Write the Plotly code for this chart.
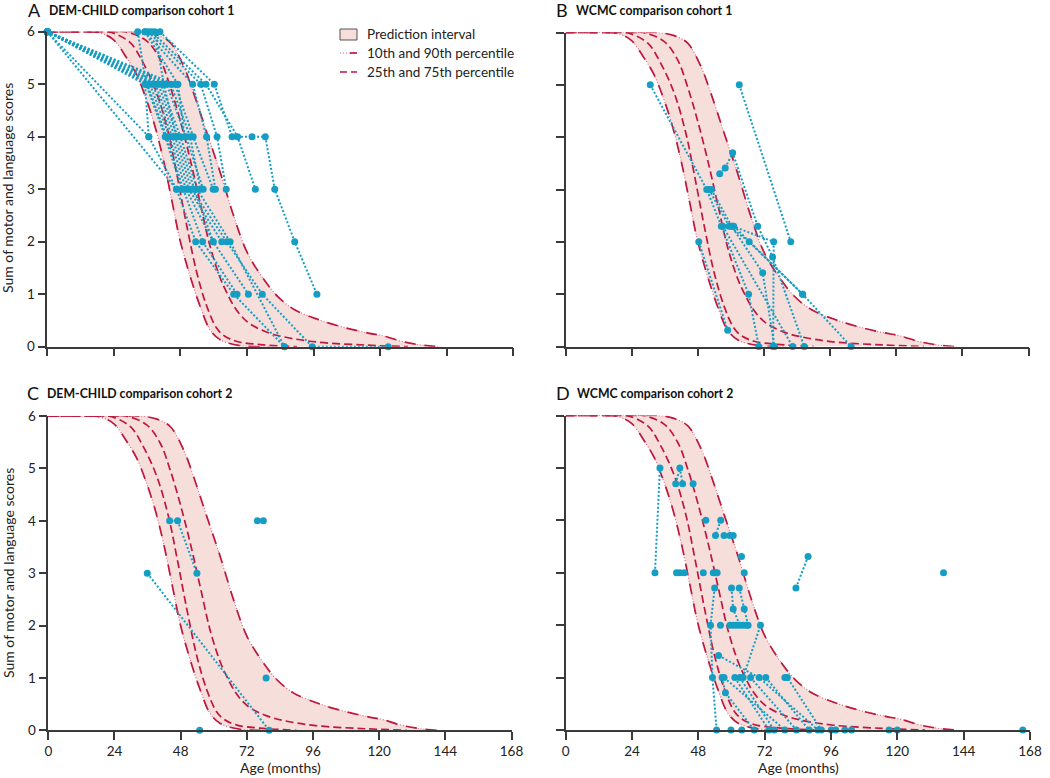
import plotly.graph_objects as go

W, H = 1050, 778

# ---------------- model percentile curves (age in months, score) ----------------
p10_age = [0, 12, 18, 23.6, 28.5, 32.1, 35.7, 38.8, 41.8, 44.8, 47.8, 51.5, 55.1, 58.7, 62.4, 69.6, 80]
p10_val = [6, 6, 5.99, 5.86, 5.51, 5.19, 4.71, 4.20, 3.57, 2.81, 2.04, 1.34, 0.77, 0.32, 0.13, 0.02, 0]
p25_age = [0, 15, 22, 29.7, 34.5, 39.4, 43.6, 46.6, 50.3, 53.9, 57.5, 61.1, 64.0, 68.4, 76.9, 90]
p25_val = [6, 6, 6, 5.80, 5.41, 4.84, 4.08, 3.31, 2.30, 1.41, 0.77, 0.35, 0.20, 0.10, 0.04, 0]
p75_age = [0, 20, 28, 35.7, 40.6, 44.2, 47.8, 51.5, 55.1, 58.7, 62.4, 64.8, 67.2, 70.0, 73.2, 79.0, 85.0, 97.0, 115, 130]
p75_val = [6, 6, 6, 5.83, 5.48, 4.97, 4.33, 3.57, 2.74, 1.91, 1.30, 1.02, 0.78, 0.58, 0.43, 0.28, 0.19, 0.09, 0.03, 0]
p90_age = [0, 25, 33.3, 39.4, 44.2, 49.1, 52.7, 57.5, 62.4, 67.2, 72.1, 78.1, 83.0, 89.0, 97.5, 106, 115.7, 121.6, 127.8, 135, 141]
p90_val = [6, 6, 6, 5.94, 5.80, 5.35, 4.84, 4.08, 3.31, 2.49, 1.79, 1.28, 0.96, 0.71, 0.52, 0.38, 0.26, 0.20, 0.10, 0.03, 0]

# ---------------- patient trajectories ----------------
# Panel A: DEM-CHILD comparison cohort 1
a_ages = [
    [0, 35.2, 36.6, 46.6, 53.5, 67.2, 85.5],
    [0, 36.6],
    [0, 46.6],
    [0, 36.0, 43.0, 49.0, 56.0, 68.4],
    [0, 37.0, 44.0, 50.0, 59.8, 72.5],
    [0, 38.0, 45.0, 51.0, 62.9],
    [0, 39.0, 46.0, 52.0, 64.7, 77.5, 95.5, 122.9],
    [0, 41.0, 48.0, 54.0, 65.9, 85.5],
    [0, 43.0, 50.0, 56.2],
    [0, 44.5, 51.5, 55.2],
    [0, 46.0, 52.6, 59.8],
    [0, 40.0, 47.0, 53.0, 59.8],
    [32.6, 35.6, 42.5, 48.5],
    [35.2, 47.1, 49.5],
    [35.2, 52.4, 57.4, 60.6],
    [36.4, 55.3, 61.2, 64.5],
    [37.6, 57.2, 68.6, 75.0],
    [40.6, 60.2, 66.6, 73.8, 78.6, 82.0, 89.2, 97.2],
    [38.8, 42.0, 46.5],
]
a_scores = [
    [6, 5, 4, 3, 2, 1, 0],
    [6, 4],
    [6, 3],
    [6, 5, 4, 3, 2, 1],
    [6, 5, 4, 3, 2, 1],
    [6, 5, 4, 3, 2],
    [6, 5, 4, 3, 2, 1, 0, 0],
    [6, 5, 4, 3, 2, 0],
    [6, 5, 4, 3],
    [6, 5, 4, 3],
    [6, 5, 4, 3],
    [6, 5, 4, 3, 2],
    [6, 5, 4, 3],
    [6, 5, 4],
    [6, 5, 4, 3],
    [6, 5, 4, 3],
    [6, 5, 4, 3],
    [6, 5, 4, 4, 4, 3, 2, 1],
    [6, 5, 4],
]

# Panel B: WCMC comparison cohort 1
b_ages = [
    [30.7, 51.2, 56.5, 66.4, 70.1],
    [48.3, 58.8],
    [63.0, 81.7],
    [55.9, 57.9, 60.6, 69.7, 75.1, 86.6],
    [52.0, 59.3, 66.6, 86.0],
    [52.9, 60.2, 71.5, 75.8],
    [61.0, 86.0, 103.6],
    [57.0, 82.4],
    [60.5, 75.5, 75.3],
]
b_scores = [
    [5, 3, 2.3, 1.0, 0],
    [2, 0.31],
    [5, 2],
    [3.3, 3.41, 3.7, 2.3, 1.71, 0],
    [3, 2.3, 2.0, 1.0],
    [3, 2.3, 1.41, 0],
    [2.3, 1.0, 0],
    [2.3, 0],
    [2.3, 2.0, 0],
]

# Panel C: DEM-CHILD comparison cohort 2
c_ages = [[35.9, 80.1], [44.0, 46.9, 53.9], [54.9], [75.8, 78.0], [79.0]]
c_scores = [[3, 0], [4, 4, 3], [0], [4, 4], [1]]

# Panel D: WCMC comparison cohort 2
d_ages = [
    [32.3, 34.1], [39.8, 41.3, 42.3], [46.1], [40.1, 41.3, 42.9], [49.8], [50.7],
    [56.1, 54.2], [57.3, 59.4, 60.6], [53.4, 54.2, 54.8], [63.6], [64.6],
    [53.9, 52.4, 53.1, 54.6], [60.0, 60.6, 63.0], [62.8, 64.6, 66.0], [56.0],
    [59.4, 60.6, 61.8, 64.2, 65.4], [64.2, 70.5], [55.3, 70.0, 91.3],
    [56.6, 57.8, 68.2], [57.3, 79.3], [61.2, 73.5], [63.0, 75.4], [66.9, 83.5],
    [72.4, 88.1], [79.3, 80.2, 92.5], [83.3, 87.7], [136.7],
    [59.8], [63.7], [96.1], [97.7], [101.0], [103.4], [117.0], [120.0], [165.4],
]
d_scores = [
    [3, 5], [4.7, 5, 4.7], [4.7], [3, 3, 3], [3], [4],
    [4, 3.71], [3.71, 3.71, 3.71], [3, 3, 3], [3.31], [3],
    [2.71, 2.0, 1.0, 0], [2.71, 2.31, 2.0], [2.71, 2.31, 2.0], [2.0],
    [2, 2, 2, 2, 2], [1, 2], [1.42, 1.0, 0],
    [1, 0.71, 0], [1, 0], [1, 0], [1, 0], [1, 0],
    [1, 0], [1, 1, 0], [2.71, 3.31], [3],
    [0], [0], [0], [0], [0], [0], [0], [0], [0],
]

x_ticks = [0, 24, 48, 72, 96, 120, 144, 168]
y_ticks = [0, 1, 2, 3, 4, 5, 6]

titles = ["DEM-CHILD comparison cohort 1", "WCMC comparison cohort 1",
          "DEM-CHILD comparison cohort 2", "WCMC comparison cohort 2"]
letters = ["A", "B", "C", "D"]

# ---------------- styling ----------------
FONT = "Lato"
RED = "#c0173f"
PINKDOT = "#d9607a"
FILL = "#f6dedb"
TEAL = "#149ec4"
AX = "#3a3a3a"

# pixel boxes: (x_left, x_right, y_top, y_bottom)
boxes = [
    (47.3, 513.3, 31.7, 346.7),
    (565.7, 1028.5, 32.5, 346.5),
    (48.3, 511.5, 416.0, 730.3),
    (565.7, 1030.0, 415.5, 730.0),
]
show_xlab = [False, False, True, True]
show_ylab = [True, False, True, False]
datasets = [(a_ages, a_scores), (b_ages, b_scores), (c_ages, c_scores), (d_ages, d_scores)]

fig = go.Figure()
layout = {}
annotations = []

for i in range(4):
    xl, xr, yt, yb = boxes[i]
    sfx = "" if i == 0 else str(i + 1)
    xa, ya = "x" + sfx, "y" + sfx
    layout["xaxis" + sfx] = dict(
        domain=[xl / W, xr / W], anchor=ya, range=[0, 168], tickvals=x_ticks,
        showticklabels=show_xlab[i], ticks="outside", ticklen=8, tickwidth=1.5,
        tickcolor=AX, showline=True, linecolor=AX, linewidth=1.5, showgrid=False,
        zeroline=False, automargin=False, tickfont=dict(family=FONT, size=13.5, color="#222"),
    )
    layout["yaxis" + sfx] = dict(
        domain=[1 - yb / H, 1 - yt / H], anchor=xa, range=[0, 6], tickvals=y_ticks,
        showticklabels=show_ylab[i], ticks="outside", ticklen=8, tickwidth=1.5,
        tickcolor=AX, showline=True, linecolor=AX, linewidth=1.5, showgrid=False,
        zeroline=False, automargin=False, tickfont=dict(family=FONT, size=13.5, color="#222"),
    )

    # prediction interval fill (10th to 90th)
    fig.add_trace(go.Scatter(x=p10_age, y=p10_val, mode="lines", line=dict(width=0, shape="spline"),
                             xaxis=xa, yaxis=ya, showlegend=False, hoverinfo="skip", cliponaxis=False))
    fig.add_trace(go.Scatter(x=p90_age, y=p90_val, mode="lines", line=dict(width=0, shape="spline"),
                             fill="tonexty", fillcolor=FILL, xaxis=xa, yaxis=ya, showlegend=False,
                             hoverinfo="skip", cliponaxis=False))
    # 10th / 90th percentile: dotted base + long red dashes
    for ax_, av_ in ((p10_age, p10_val), (p90_age, p90_val)):
        fig.add_trace(go.Scatter(x=ax_, y=av_, mode="lines",
                                 line=dict(color=PINKDOT, width=1.1, dash="1px,2px", shape="spline"),
                                 xaxis=xa, yaxis=ya, showlegend=False, hoverinfo="skip", cliponaxis=False))
        fig.add_trace(go.Scatter(x=ax_, y=av_, mode="lines",
                                 line=dict(color=RED, width=1.7, dash="11px,9px", shape="spline"),
                                 xaxis=xa, yaxis=ya, showlegend=False, hoverinfo="skip", cliponaxis=False))
    # 25th / 75th percentile dashed
    for ax_, av_ in ((p25_age, p25_val), (p75_age, p75_val)):
        fig.add_trace(go.Scatter(x=ax_, y=av_, mode="lines",
                                 line=dict(color=RED, width=1.7, dash="8px,4px", shape="spline"),
                                 xaxis=xa, yaxis=ya, showlegend=False, hoverinfo="skip", cliponaxis=False))

    # patient trajectories
    ages, scores = datasets[i]
    xs, ys = [], []
    for a, s in zip(ages, scores):
        xs += list(a) + [None]
        ys += list(s) + [None]
    fig.add_trace(go.Scatter(x=xs, y=ys, mode="lines", connectgaps=False,
                             line=dict(color=TEAL, width=2, dash="2px,2px"),
                             xaxis=xa, yaxis=ya, showlegend=False, hoverinfo="skip", cliponaxis=False))
    fig.add_trace(go.Scatter(x=xs, y=ys, mode="markers",
                             marker=dict(color=TEAL, size=7, line=dict(width=0)),
                             xaxis=xa, yaxis=ya, showlegend=False, cliponaxis=False))

# ---------------- titles ----------------
title_pos = [(26, 47, 10), (554, 574, 10), (25, 45, 393), (554, 575, 393)]
for i in range(4):
    lx, tx, ty = title_pos[i]
    annotations.append(dict(text=letters[i], x=lx / W, y=1 - ty / H, xref="paper", yref="paper",
                            xanchor="left", yanchor="middle", showarrow=False,
                            font=dict(family=FONT, size=18, color="#111")))
    annotations.append(dict(text="<b>" + titles[i] + "</b>", x=tx / W, y=1 - ty / H, xref="paper",
                            yref="paper", xanchor="left", yanchor="middle", showarrow=False,
                            font=dict(family=FONT, size=12.3, color="#111")))

# axis titles
for yc in (188, 573):
    annotations.append(dict(text="Sum of motor and language scores", x=8 / W, y=1 - yc / H,
                            xref="paper", yref="paper", textangle=-90, showarrow=False,
                            xanchor="center", yanchor="middle",
                            font=dict(family=FONT, size=14, color="#222")))
for xc in (280, 798):
    annotations.append(dict(text="Age (months)", x=xc / W, y=1 - 767 / H, xref="paper", yref="paper",
                            showarrow=False, xanchor="center", yanchor="middle",
                            font=dict(family=FONT, size=14, color="#222")))

# ---------------- legend (drawn in panel A) ----------------
shapes = []
lx0, lx1 = 340, 357
shapes.append(dict(type="rect", xref="paper", yref="paper", x0=lx0 / W, x1=lx1 / W,
                   y0=1 - 40 / H, y1=1 - 29 / H, fillcolor=FILL, line=dict(color="#555", width=1)))
shapes.append(dict(type="line", xref="paper", yref="paper", x0=lx0 / W, x1=350 / W,
                   y0=1 - 53 / H, y1=1 - 53 / H, line=dict(color=PINKDOT, width=1.2, dash="1px,2px")))
shapes.append(dict(type="line", xref="paper", yref="paper", x0=350 / W, x1=lx1 / W,
                   y0=1 - 53 / H, y1=1 - 53 / H, line=dict(color=RED, width=1.7)))
shapes.append(dict(type="line", xref="paper", yref="paper", x0=lx0 / W, x1=lx1 / W,
                   y0=1 - 72 / H, y1=1 - 72 / H, line=dict(color=RED, width=1.7, dash="7px,4px")))
for txt, yy in (("Prediction interval", 34), ("10th and 90th percentile", 53),
                ("25th and 75th percentile", 72)):
    annotations.append(dict(text=txt, x=365 / W, y=1 - yy / H, xref="paper", yref="paper",
                            xanchor="left", yanchor="middle", showarrow=False,
                            font=dict(family=FONT, size=13.5, color="#222")))

fig.update_layout(
    width=W, height=H, margin=dict(l=0, r=0, t=0, b=0, pad=0, autoexpand=False),
    paper_bgcolor="white", plot_bgcolor="white", showlegend=False, hovermode=False,
    annotations=annotations, shapes=shapes, **layout,
)

fig.write_html("out.html", config={"displayModeBar": False},
               post_script="document.body.style.margin='0';document.body.style.overflow='hidden';")
